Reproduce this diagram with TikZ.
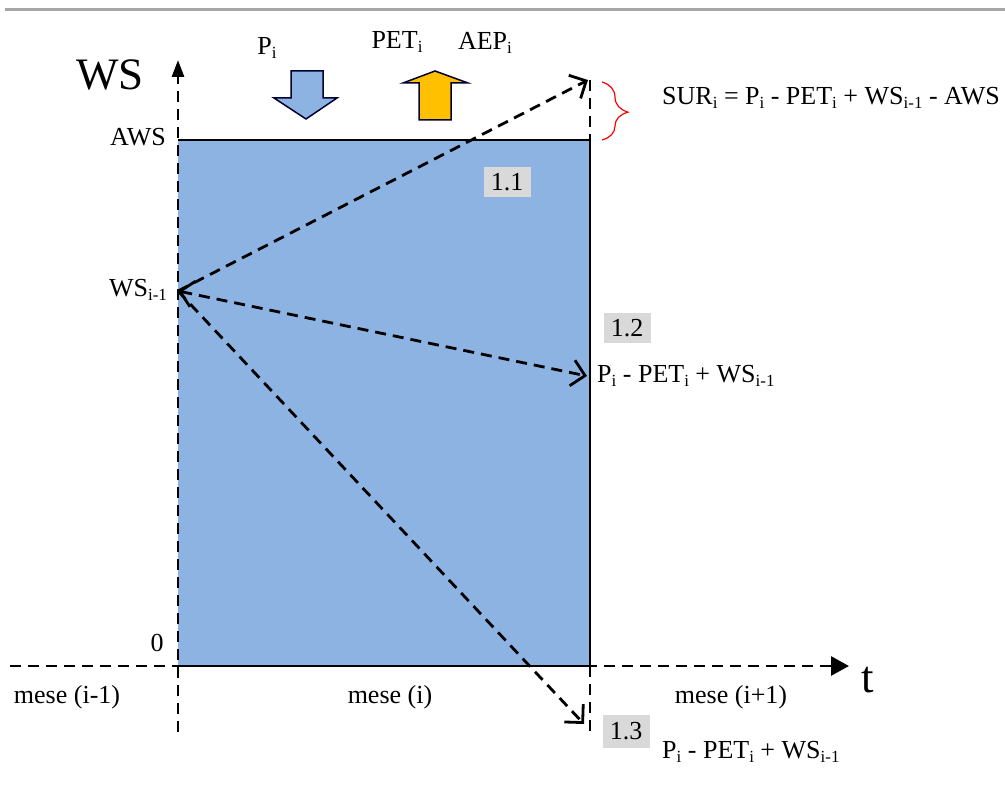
\documentclass[tikz,border=0pt]{standalone}
\usepackage{fontspec}
\setmainfont{Liberation Serif}
\usetikzlibrary{arrows.meta,decorations.pathreplacing}
\definecolor{wsblue}{HTML}{8DB3E2}
\definecolor{wsorange}{HTML}{FFC000}
\definecolor{boxgray}{HTML}{D9D9D9}
\definecolor{topgray}{HTML}{A6A6A6}
\newcommand{\sbs}[1]{\raisebox{-0.3ex}{\fontsize{17}{17}\selectfont #1}}
\tikzset{
  lbl/.style={inner sep=1pt, font=\fontsize{26}{29}\selectfont},
  big/.style={inner sep=1pt, font=\fontsize{45}{48}\selectfont},
  numbox/.style={fill=boxgray, minimum width=47pt, minimum height=30pt, inner sep=0pt, font=\fontsize{26}{29}\selectfont},
  axis/.style={line width=2.8pt, dash pattern=on 11pt off 7pt},
  barb/.tip={Straight Barb[length=13pt,width=26pt,line width=2.8pt]},
  conn/.style={line width=2.8pt, dash pattern=on 11pt off 7pt, -barb},
  bigarrow/.style={line width=1.5pt, draw=black!80!blue},
}
\begin{document}
\begin{tikzpicture}[x=1pt,y=-1pt]
\useasboundingbox (0,0) rectangle (1005,800);
\fill[white] (0,0) rectangle (1005,800);
\draw[topgray, line width=3pt] (5,10) -- (1005,10);
% water storage box
\fill[wsblue] (178,140) rectangle (590,666);
\draw[line width=2.2pt] (178,140) -- (590,140) -- (590,666) -- (178,666);
% axes
\coordinate (ybot) at (178,732);
\coordinate (ytop) at (178,60);
\coordinate (xleft) at (10,666);
\coordinate (xright) at (849,666);
\draw[axis, -{Triangle[length=17pt,width=12pt]}] (ybot) -- (ytop);
\draw[axis, -{Triangle[length=18pt,width=19pt]}] (xleft) -- (xright);
\coordinate (rtop) at (590,80);
\coordinate (rtopb) at (590,140);
\coordinate (rbot) at (590,666);
\coordinate (rbotb) at (590,731);
\draw[axis] (rtop) -- (rtopb);
\draw[axis] (rbot) -- (rbotb);
% labels on axes
\node[big] (ws) at (110,75) {WS};
\node[big] (t) at (868,680) {t};
\node[lbl, anchor=east] (aws) at (167,137) {AWS};
\node[lbl] (zero) at (157,643) {0};
\node[lbl] (wsm) at (138,290) {WS\sbs{i-1}};
\node[lbl] (m1) at (67,697) {mese (i-1)};
\node[lbl] (m2) at (390,697) {mese (i)};
\node[lbl] (m3) at (731,697) {mese (i+1)};
% connectors
\coordinate (src) at (178,291);
\coordinate (e1) at (588,80);
\coordinate (e2) at (587,376);
\coordinate (e3) at (584,724);
\draw[conn] (src) -- (e1);
\draw[conn, barb-barb] (src) -- (e2);
\draw[conn] (src) -- (e3);
% number boxes
\node[numbox] (b1) at (507,182) {1.1};
\node[numbox] (b2) at (627,328) {1.2};
\node[numbox, minimum height=33pt] (b3) at (626,731) {1.3};
% result labels
\node[lbl, anchor=west] (r2) at (596,376) {P\sbs{i} - PET\sbs{i} + WS\sbs{i-1}};
\node[lbl, anchor=west] (r3) at (661,752) {P\sbs{i} - PET\sbs{i} + WS\sbs{i-1}};
\node[lbl, anchor=west] (sur) at (661,98) {SUR\sbs{i} = P\sbs{i} - PET\sbs{i} + WS\sbs{i-1} - AWS};
% brace
\draw[red, line width=1.2pt, decorate, decoration={brace, amplitude=26pt, aspect=0.52}] (602,82) -- (602,140);
% flux arrows
\draw[bigarrow, fill=wsblue] (291,71) -- (323,71) -- (323,98) -- (337,98) -- (306,119) -- (274,98) -- (291,98) -- cycle;
\draw[bigarrow, fill=wsorange] (419,120) -- (451,120) -- (451,83) -- (468,83) -- (435,71) -- (403,83) -- (419,83) -- cycle;
\node[lbl] (pi) at (267,48) {P\sbs{i}};
\node[lbl] (pet) at (397,42) {PET\sbs{i}};
\node[lbl] (aep) at (485,43) {AEP\sbs{i}};
\end{tikzpicture}
\end{document}
